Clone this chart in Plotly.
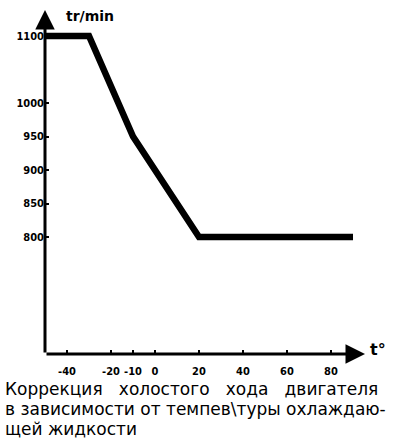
import plotly.graph_objects as go

# Data
temps = [-50, -30, -10, 0, 20, 90]          # coolant temperature, °C
rpm = [1100, 1100, 950, 900, 800, 800]      # idle speed, tr/min
x_ticks = [-40, -20, -10, 0, 20, 40, 60, 80]
y_ticks = [800, 850, 900, 950, 1000, 1100]
y_title = "tr/min"
x_title = "t°"
caption = [
    "Коррекция   холостого   хода   двигателя",
    "в зависимости от темпев\\туры охлаждаю-",
    "щей жидкости",
]

X_MIN, X_MAX = -50, 95.45
Y_MIN, Y_MAX = 625.4, 1138.8

# plot area in pixels (for placing free text in paper coords)
L, T, PW, PH = 45, 10, 320, 344


def px(xp):
    return (xp - L) / PW


def py(yp):
    return 1 - (yp - T) / PH


fig = go.Figure()
fig.add_trace(go.Scatter(x=temps, y=rpm, mode="lines",
                         line=dict(color="black", width=6.5),
                         hoverinfo="skip", cliponaxis=False))

tickfont = dict(family="Liberation Sans Narrow, DejaVu Sans Condensed, Arial",
                size=11, color="black", weight="bold")

fig.update_layout(
    width=400, height=446,
    margin=dict(l=L, r=400 - L - PW, t=T, b=446 - T - PH),
    plot_bgcolor="white", paper_bgcolor="white",
    showlegend=False,
    xaxis=dict(range=[X_MIN, X_MAX], tickvals=x_ticks, ticktext=[str(v) for v in x_ticks],
               ticks="outside", ticklen=7, tickwidth=1, tickcolor="rgba(0,0,0,0)",
               minor=dict(tickmode="array", tickvals=x_ticks, ticks="inside",
                          ticklen=4, tickwidth=2, tickcolor="black", showgrid=False),
               showgrid=False, zeroline=False, showline=False,
               tickfont=tickfont, fixedrange=True),
    yaxis=dict(range=[Y_MIN, Y_MAX], tickvals=y_ticks, ticktext=[str(v) for v in y_ticks],
               ticks="inside", ticklen=4, tickwidth=2, tickcolor="black",
               showgrid=False, zeroline=False, showline=False,
               tickfont=tickfont, fixedrange=True),
)

# Axis arrows
fig.add_annotation(x=X_MAX, y=Y_MIN, ax=X_MIN, ay=Y_MIN, xref="x", yref="y",
                   axref="x", ayref="y", showarrow=True, arrowhead=2,
                   arrowsize=1.3, arrowwidth=3, arrowcolor="black", text="")
fig.add_annotation(x=X_MIN, y=Y_MAX, ax=X_MIN, ay=Y_MIN, xref="x", yref="y",
                   axref="x", ayref="y", showarrow=True, arrowhead=2,
                   arrowsize=1.3, arrowwidth=3, arrowcolor="black", text="")

# Axis titles
fig.add_annotation(x=px(90), y=py(16), xref="paper", yref="paper", text=y_title,
                   showarrow=False, xanchor="center", yanchor="middle",
                   font=dict(family="DejaVu Sans", size=14, color="black", weight="bold"))
fig.add_annotation(x=px(378), y=py(349), xref="paper", yref="paper",
                   text=x_title, showarrow=False, xanchor="center", yanchor="middle",
                   font=dict(family="DejaVu Sans", size=16, color="black", weight="bold"))

# Caption
for i, line in enumerate(caption):
    fig.add_annotation(x=px(3), y=py(389 + 20 * i), xref="paper", yref="paper",
                       text=line, showarrow=False, xanchor="left", yanchor="middle",
                       font=dict(family="DejaVu Sans", size=17, color="black"))

fig.write_html("out.html")
